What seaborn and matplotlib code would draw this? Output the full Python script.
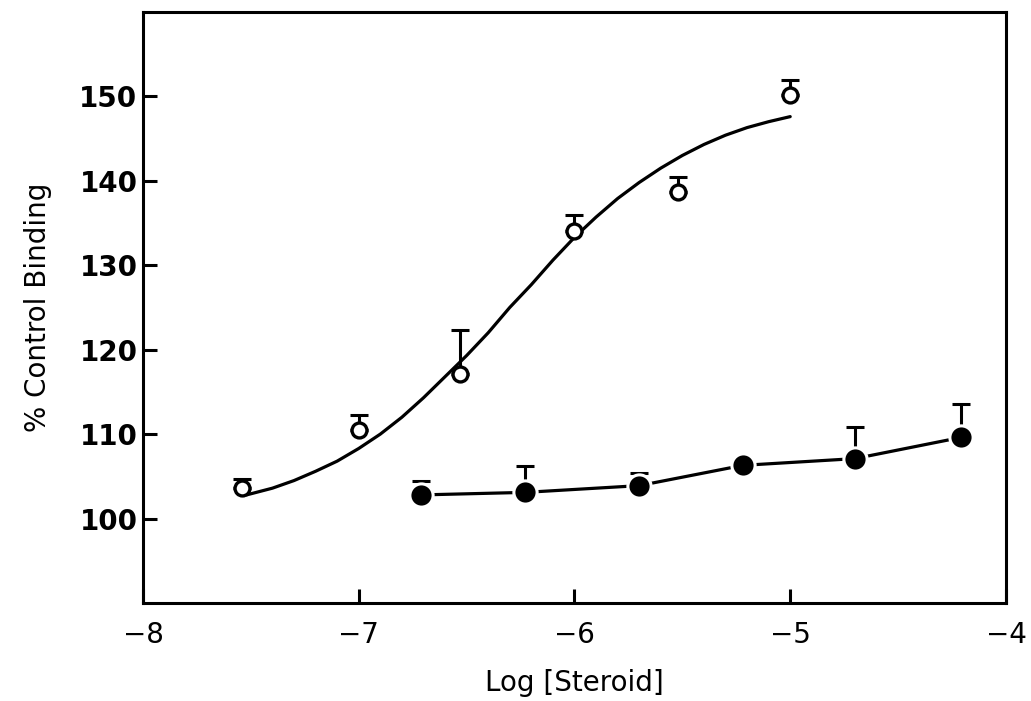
import matplotlib
matplotlib.use("Agg")
import matplotlib.pyplot as plt
import seaborn as sns
import pandas as pd

sns.set_style("ticks")
plt.rcParams['font.family'] = ['DejaVu Sans']
plt.rcParams['text.color'] = 'black'
plt.rcParams['axes.labelcolor'] = 'black'
plt.rcParams['xtick.color'] = 'black'
plt.rcParams['ytick.color'] = 'black'

# open circles (measured points) and their upper error bars
open_x = [-7.54, -7.0, -6.53, -6.0, -5.52, -5.0]
open_y = [103.6, 110.5, 117.1, 134.1, 138.7, 150.2]
open_err = [1.1, 1.8, 5.2, 1.9, 1.8, 1.7]

# fitted curve
curve_x = [-7.52, -7.40, -7.30, -7.20, -7.10, -7.00, -6.90, -6.80, -6.70,
           -6.60, -6.50, -6.40, -6.30, -6.20, -6.10, -6.00, -5.90, -5.80,
           -5.70, -5.60, -5.50, -5.40, -5.30, -5.20, -5.10, -5.00]
curve_y = [102.8, 103.6, 104.5, 105.6, 106.8, 108.3, 110.0, 112.0, 114.3,
           116.8, 119.3, 122.0, 125.0, 127.7, 130.6, 133.3, 135.7, 137.9,
           139.8, 141.5, 143.0, 144.3, 145.4, 146.3, 147.0, 147.6]

# filled circles
filled_x = [-6.71, -6.23, -5.70, -5.22, -4.70, -4.21]
filled_y = [102.8, 103.1, 103.9, 106.3, 107.1, 109.6]
filled_err = [1.7, 3.1, 1.5, 0.0, 3.7, 4.0]

curve = pd.DataFrame({"x": curve_x, "y": curve_y})
opn = pd.DataFrame({"x": open_x, "y": open_y})
fil = pd.DataFrame({"x": filled_x, "y": filled_y})

fig = plt.figure(figsize=(10.31, 7.01), dpi=100)
ax = fig.add_axes([0.1387, 0.1398, 0.9757 - 0.1387, 0.983 - 0.1398])

sns.lineplot(data=curve, x="x", y="y", color="black", linewidth=2.3, ax=ax)
sns.lineplot(data=fil, x="x", y="y", color="black", linewidth=2.3, ax=ax)

ax.errorbar(open_x, open_y, yerr=[[0] * len(open_err), open_err], fmt="none",
            ecolor="black", elinewidth=2.2, capsize=6.5, capthick=2.2, zorder=3)
ax.errorbar(filled_x, filled_y, yerr=[[0] * len(filled_err), filled_err], fmt="none",
            ecolor="black", elinewidth=2.2, capsize=6.5, capthick=2.2, zorder=3)

sns.scatterplot(data=opn, x="x", y="y", s=115, facecolor="white",
                edgecolor="black", linewidth=2.4, zorder=4, ax=ax)
sns.scatterplot(data=fil, x="x", y="y", s=280, color="black",
                edgecolor="white", linewidth=2.2, zorder=4, ax=ax)

ax.set_xlim(-8, -4)
ax.set_ylim(90, 160)
ax.set_xticks([-8, -7, -6, -5, -4])
ax.set_yticks([100, 110, 120, 130, 140, 150])
ax.tick_params(direction="in", length=10, width=2.2, color="black", labelsize=20,
               labelcolor="black")
ax.tick_params(axis="x", pad=13)
ax.tick_params(axis="y", pad=4)
for lab in ax.get_yticklabels():
    lab.set_fontweight("bold")
for s in ax.spines.values():
    s.set_linewidth(2.2)
    s.set_color("black")

ax.set_xlabel("Log [Steroid]", fontsize=20, labelpad=14, color="black")
ax.set_ylabel("% Control Binding", fontsize=20, labelpad=20, color="black")

fig.savefig("out.png", dpi=100)
